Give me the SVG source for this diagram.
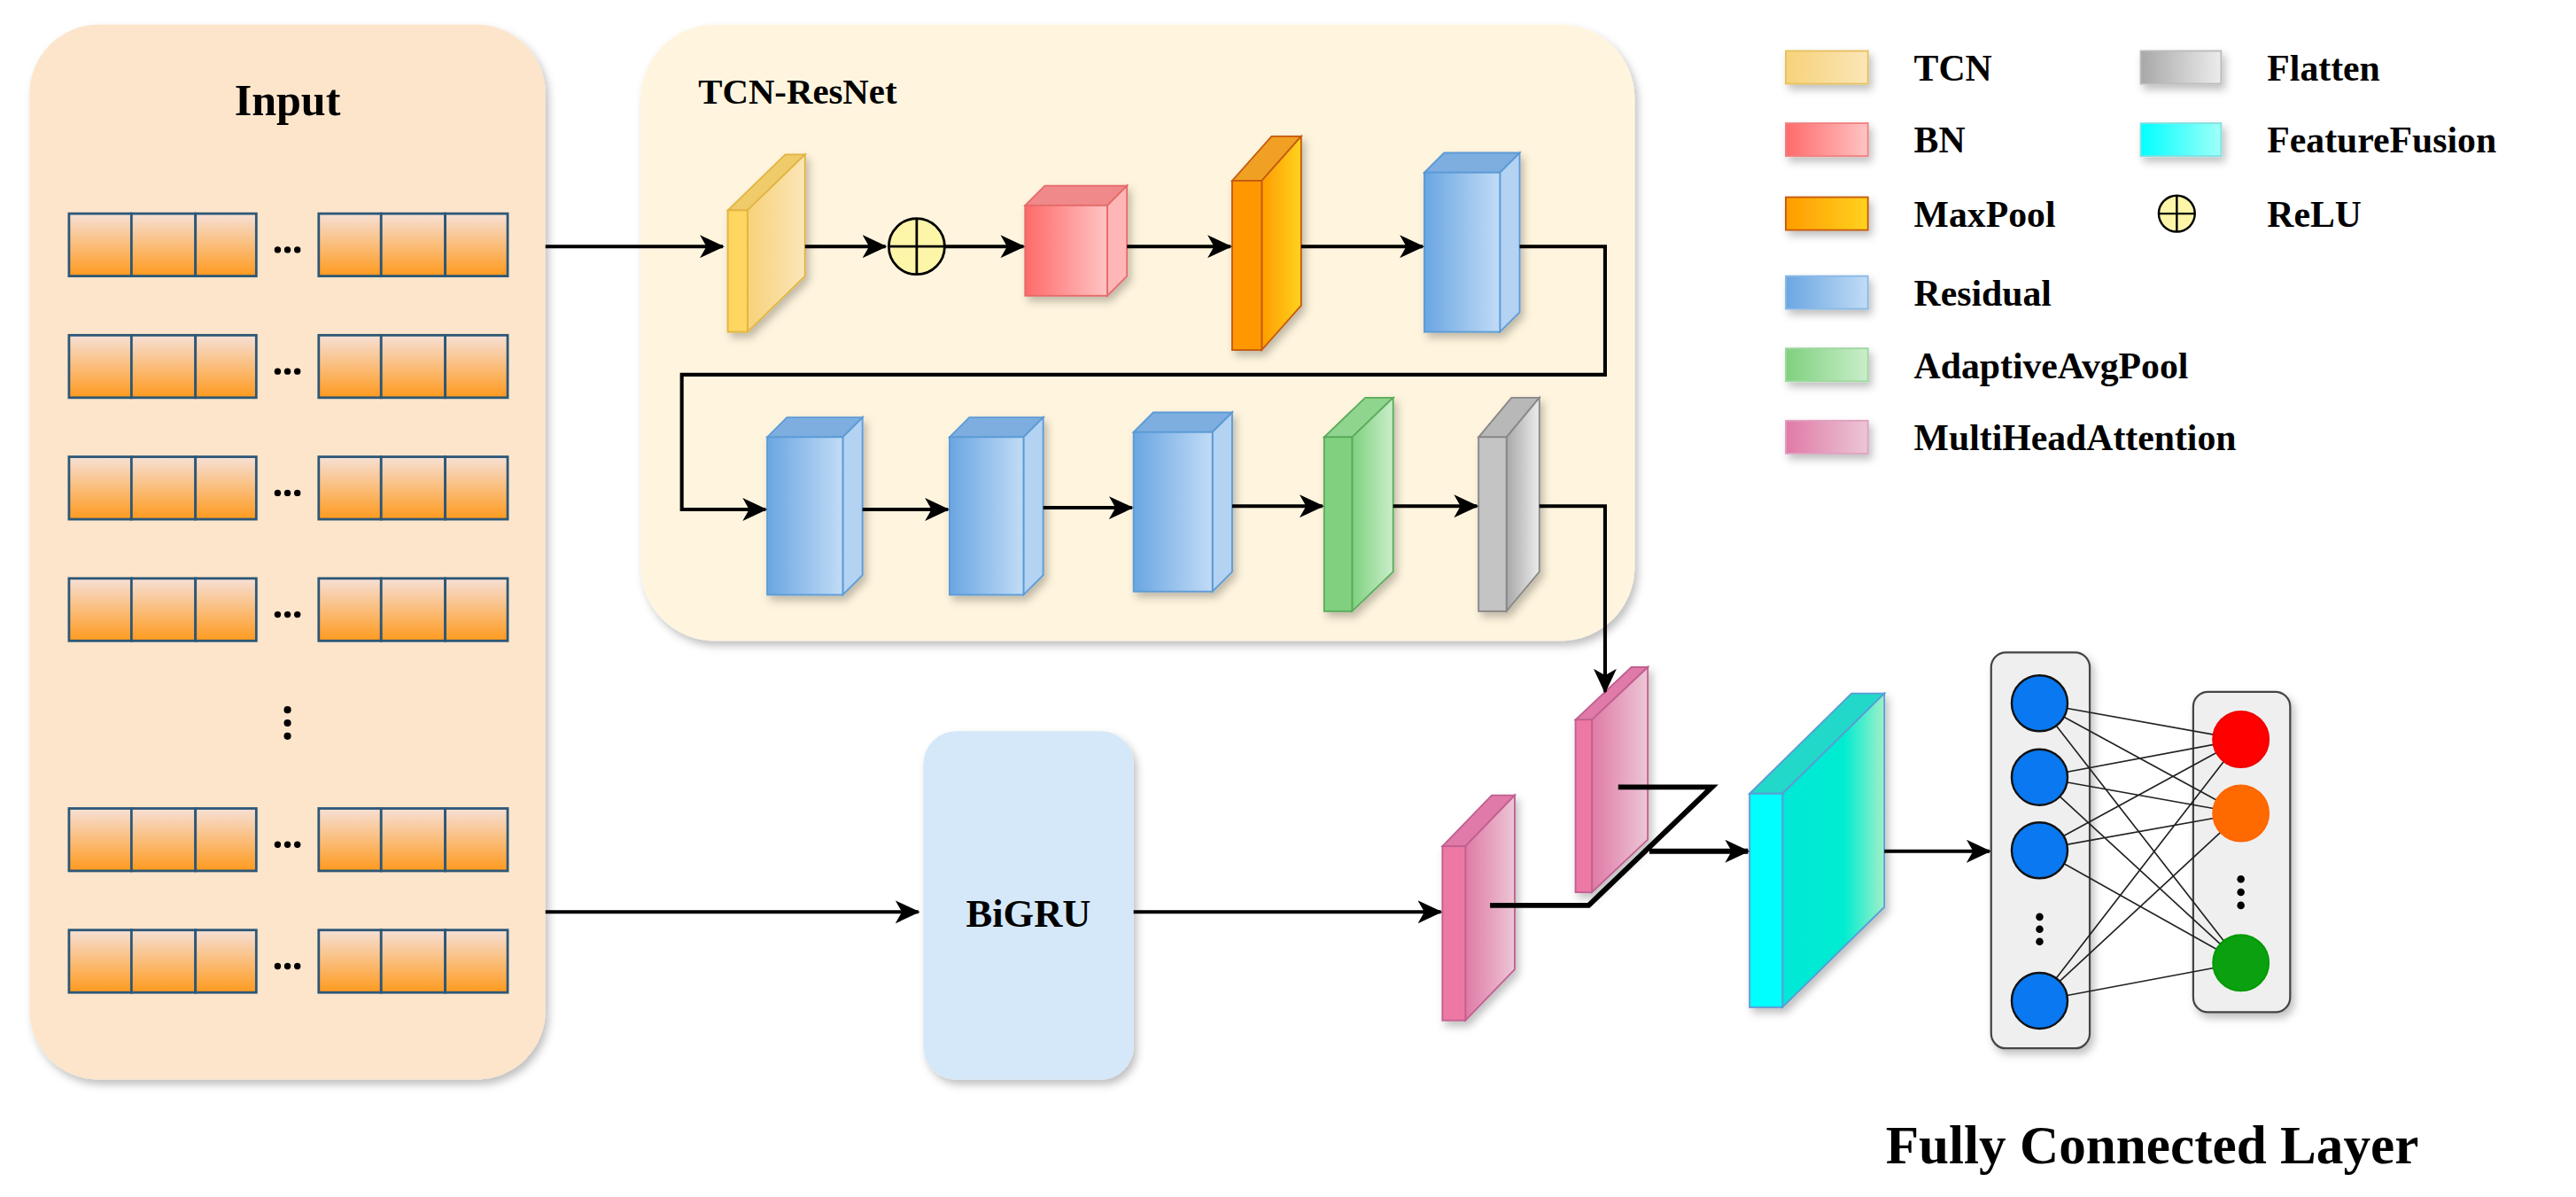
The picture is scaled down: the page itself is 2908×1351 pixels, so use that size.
<svg xmlns="http://www.w3.org/2000/svg" width="2908" height="1351" viewBox="0 0 2908 1351">
<defs>
<style>
.t{font-family:"Liberation Serif","Times New Roman",serif;font-weight:bold;fill:#000}
.ln{fill:none;stroke:#000;stroke-width:2.2}
.lk{fill:none;stroke:#000;stroke-width:3.2}
.fc{stroke:#222;stroke-width:0.9}
.cell{fill:url(#gCell);stroke:#2c5777;stroke-width:1.5}
</style>
<filter id="sh" x="-20%" y="-20%" width="150%" height="150%"><feDropShadow dx="2" dy="3" stdDeviation="2.5" flood-color="#000" flood-opacity="0.25"/></filter>
<marker id="ar" markerUnits="userSpaceOnUse" markerWidth="16" markerHeight="14" refX="14" refY="7" orient="auto"><path d="M0,0 L15,7 L0,14 L4,7 z" fill="#000"/></marker>
<linearGradient id="gCell" x1="0" y1="0" x2="0" y2="1"><stop offset="0" stop-color="#f6e0d6"/><stop offset="1" stop-color="#ff9a1e"/></linearGradient>
<linearGradient id="gY" x1="0" x2="1"><stop offset="0" stop-color="#f7d27a"/><stop offset="1" stop-color="#fbe6b8"/></linearGradient>
<linearGradient id="gR" x1="0" x2="1"><stop offset="0" stop-color="#ff6a6a"/><stop offset="1" stop-color="#ffc4c4"/></linearGradient>
<linearGradient id="gO" x1="0" x2="1"><stop offset="0" stop-color="#ff9c00"/><stop offset="1" stop-color="#ffd21e"/></linearGradient>
<linearGradient id="gB" x1="0" x2="1"><stop offset="0" stop-color="#6aa6e2"/><stop offset="1" stop-color="#c2dcf6"/></linearGradient>
<linearGradient id="gG" x1="0" x2="1"><stop offset="0" stop-color="#7fd07f"/><stop offset="1" stop-color="#caeeca"/></linearGradient>
<linearGradient id="gGr" x1="0" x2="1"><stop offset="0" stop-color="#a8a8a8"/><stop offset="1" stop-color="#ececec"/></linearGradient>
<linearGradient id="gP" x1="0" x2="1"><stop offset="0" stop-color="#e07aa6"/><stop offset="1" stop-color="#ecc6d6"/></linearGradient>
<linearGradient id="gC" x1="0" x2="1"><stop offset="0" stop-color="#00e8d8"/><stop offset="0.6" stop-color="#00ecd0"/><stop offset="1" stop-color="#a0f0c8"/></linearGradient>
<linearGradient id="gCs" x1="0" x2="1"><stop offset="0" stop-color="#00ffff"/><stop offset="1" stop-color="#a0fff8"/></linearGradient>
</defs>
<rect width="2908" height="1351" fill="#fff"/>
<g transform="scale(1.8546)">
<!-- Input -->
<g id="input">
<rect x="18" y="15" width="314" height="642" rx="42" fill="#fde5cb" filter="url(#sh)"/>
<text class="t" x="175" y="70" font-size="27" text-anchor="middle">Input</text>
<g id="rows">
<g id="row0" transform="translate(0,130)">
<rect class="cell" x="42" y="0" width="38" height="38"/><rect class="cell" x="80" y="0" width="39" height="38"/><rect class="cell" x="119" y="0" width="37" height="38"/>
<rect class="cell" x="194" y="0" width="38" height="38"/><rect class="cell" x="232" y="0" width="39" height="38"/><rect class="cell" x="271" y="0" width="38" height="38"/>
<circle cx="169" cy="22" r="2"/><circle cx="175" cy="22" r="2"/><circle cx="181" cy="22" r="2"/>
</g>
<use href="#row0" y="74"/><use href="#row0" y="148"/><use href="#row0" y="222"/><use href="#row0" y="362"/><use href="#row0" y="436"/>
</g>
<circle cx="175" cy="432" r="2.2"/><circle cx="175" cy="440" r="2.2"/><circle cx="175" cy="448" r="2.2"/>
</g>
<!-- TCN-ResNet -->
<g id="tcnresnet">
<rect x="390" y="15" width="605" height="375" rx="45" fill="#fff5de" filter="url(#sh)"/>
<text class="t" x="425" y="63" font-size="22">TCN-ResNet</text>
</g>
<g id="tcn" filter="url(#sh)">
<polygon points="443,128 478,94 490,94 455,128" fill="#efcb6a" stroke="#e2b441"/>
<polygon points="455,128 490,94 490,168 455,202" fill="url(#gY)" stroke="#e2b441"/>
<rect x="443" y="128" width="12" height="74" fill="#ffd660" stroke="#e2b441"/>
</g>
<g id="relu"><circle cx="558" cy="150" r="17" fill="#fdf6a8" stroke="#000" stroke-width="1.5"/><path d="M541,150H575M558,133V167" stroke="#000" stroke-width="1.5"/></g>
<g id="bn" filter="url(#sh)">
<polygon points="624,125 636,113 686,113 674,125" fill="#f08a8a" stroke="#e56a6a"/>
<polygon points="674,125 686,113 686,168 674,180" fill="#ffb6b6" stroke="#e56a6a"/>
<rect x="624" y="125" width="50" height="55" fill="url(#gR)" stroke="#e56a6a"/>
</g>
<g id="maxpool" filter="url(#sh)">
<polygon points="750,110 774,83 792,83 768,110" fill="#f0a020" stroke="#c55a11"/>
<polygon points="768,110 792,83 792,186 768,213" fill="url(#gO)" stroke="#c55a11"/>
<rect x="750" y="110" width="18" height="103" fill="#ff9800" stroke="#c55a11"/>
</g>
<g id="res1" filter="url(#sh)">
<polygon points="867,105 879,93 925,93 913,105" fill="#7eaee0" stroke="#5b9bd5"/>
<polygon points="913,105 925,93 925,190 913,202" fill="#b4d2f2" stroke="#5b9bd5"/>
<rect x="867" y="105" width="46" height="97" fill="url(#gB)" stroke="#5b9bd5"/>
</g>
<g id="res2" filter="url(#sh)">
<polygon points="467,266 479,254 525,254 513,266" fill="#7eaee0" stroke="#5b9bd5"/>
<polygon points="513,266 525,254 525,350 513,362" fill="#b4d2f2" stroke="#5b9bd5"/>
<rect x="467" y="266" width="46" height="96" fill="url(#gB)" stroke="#5b9bd5"/>
</g>
<g id="res3" filter="url(#sh)">
<polygon points="578,266 590,254 635,254 623,266" fill="#7eaee0" stroke="#5b9bd5"/>
<polygon points="623,266 635,254 635,350 623,362" fill="#b4d2f2" stroke="#5b9bd5"/>
<rect x="578" y="266" width="45" height="96" fill="url(#gB)" stroke="#5b9bd5"/>
</g>
<g id="res4" filter="url(#sh)">
<polygon points="690,263 702,251 750,251 738,263" fill="#7eaee0" stroke="#5b9bd5"/>
<polygon points="738,263 750,251 750,348 738,360" fill="#b4d2f2" stroke="#5b9bd5"/>
<rect x="690" y="263" width="48" height="97" fill="url(#gB)" stroke="#5b9bd5"/>
</g>
<g id="adaptiveavgpool" filter="url(#sh)">
<polygon points="806,266 831,242 848,242 823,266" fill="#8fd48f" stroke="#5aac5a"/>
<polygon points="823,266 848,242 848,348 823,372" fill="url(#gG)" stroke="#5aac5a"/>
<rect x="806" y="266" width="17" height="106" fill="#80d080" stroke="#5aac5a"/>
</g>
<g id="flatten" filter="url(#sh)">
<polygon points="900,266 920,242 937,242 917,266" fill="#b8b8b8" stroke="#888"/>
<polygon points="917,266 937,242 937,348 917,372" fill="url(#gGr)" stroke="#888"/>
<rect x="900" y="266" width="17" height="106" fill="#c4c4c4" stroke="#888"/>
</g>
<!-- BiGRU -->
<g id="bigru">
<rect x="562" y="445" width="128" height="212" rx="20" fill="#d5e8f9" filter="url(#sh)"/>
<text class="t" x="626" y="564" font-size="24" text-anchor="middle">BiGRU</text>
</g>
<g id="mha1" filter="url(#sh)">
<polygon points="878,515 908,484 922,484 892,515" fill="#e07aa8" stroke="#c06090"/>
<polygon points="892,515 922,484 922,590 892,621" fill="url(#gP)" stroke="#c06090"/>
<rect x="878" y="515" width="14" height="106" fill="#ee78a4" stroke="#c06090"/>
</g>
<g id="mha2" filter="url(#sh)">
<polygon points="959,438 993,406 1003,406 969,438" fill="#e07aa8" stroke="#c06090"/>
<polygon points="969,438 1003,406 1003,511 969,543" fill="url(#gP)" stroke="#c06090"/>
<rect x="959" y="438" width="10" height="105" fill="#ee78a4" stroke="#c06090"/>
</g>
<g id="featurefusion" filter="url(#sh)">
<polygon points="1065,483 1127,422 1147,422 1085,483" fill="#20d8c8" stroke="#5b9bd5"/>
<polygon points="1085,483 1147,422 1147,552 1085,613" fill="url(#gC)" stroke="#5b9bd5"/>
<rect x="1065" y="483" width="20" height="130" fill="#00ffff" stroke="#5b9bd5"/>
</g>
<!-- FC -->
<g id="fc">
<rect x="1212" y="397" width="60" height="241" rx="9" fill="#efefef" stroke="#444" stroke-width="1.2" filter="url(#sh)"/>
<rect x="1335" y="421" width="59" height="195" rx="9" fill="#efefef" stroke="#444" stroke-width="1.2" filter="url(#sh)"/>
<g class="fc">
<path d="M1241,428L1364,450M1241,428L1364,495M1241,428L1364,586M1241,473L1364,450M1241,473L1364,495M1241,473L1364,586M1241,517L1364,450M1241,517L1364,495M1241,517L1364,586M1241,609L1364,450M1241,609L1364,495M1241,609L1364,586"/>
</g>
<g fill="#0a78f0" stroke="#111" stroke-width="1.3">
<circle cx="1241.5" cy="428" r="17"/><circle cx="1241.5" cy="473" r="17"/><circle cx="1241.5" cy="517.5" r="17"/><circle cx="1241.5" cy="609" r="17"/>
</g>
<circle cx="1364" cy="450" r="17" fill="#ff0000" stroke="#e00" stroke-width="1"/>
<circle cx="1364" cy="495" r="17" fill="#ff6a00" stroke="#f60" stroke-width="1"/>
<circle cx="1364" cy="586" r="17" fill="#0aa010" stroke="#090" stroke-width="1"/>
<circle cx="1241.5" cy="558" r="2.3"/><circle cx="1241.5" cy="565.5" r="2.3"/><circle cx="1241.5" cy="573" r="2.3"/>
<circle cx="1364" cy="535" r="2.3"/><circle cx="1364" cy="543" r="2.3"/><circle cx="1364" cy="551" r="2.3"/>
<text class="t" x="1310" y="708" font-size="33" text-anchor="middle">Fully Connected Layer</text>
</g>
<!-- Legend -->
<g id="legend" class="t" font-size="22.5">
<g filter="url(#sh)">
<rect x="1087" y="31" width="50" height="20" fill="url(#gY)" stroke="#e6c060"/>
<rect x="1087" y="75" width="50" height="20" fill="url(#gR)" stroke="#f08080"/>
<rect x="1087" y="120" width="50" height="20" fill="url(#gO)" stroke="#c55a11"/>
<rect x="1087" y="168" width="50" height="20" fill="url(#gB)" stroke="#8ab8e6"/>
<rect x="1087" y="212" width="50" height="20" fill="url(#gG)" stroke="#a0d8a0"/>
<rect x="1087" y="256" width="50" height="20" fill="url(#gP)" stroke="#e0a0c0"/>
<rect x="1303" y="31" width="49" height="20" fill="url(#gGr)" stroke="#bbb"/>
<rect x="1303" y="75" width="49" height="20" fill="url(#gCs)" stroke="#80e0e0"/>
</g>
<circle cx="1325" cy="130" r="11" fill="#fdf6a8" stroke="#000" stroke-width="1.3"/><path d="M1314,130H1336M1325,119V141" stroke="#000" stroke-width="1.3"/>
<text x="1165" y="49">TCN</text>
<text x="1165" y="93">BN</text>
<text x="1165" y="138">MaxPool</text>
<text x="1165" y="186">Residual</text>
<text x="1165" y="230">AdaptiveAvgPool</text>
<text x="1165" y="274">MultiHeadAttention</text>
<text x="1380" y="49">Flatten</text>
<text x="1380" y="93">FeatureFusion</text>
<text x="1380" y="138">ReLU</text>
</g>
<!-- connectors -->
<g id="connectors">
<path class="ln" d="M332,150H440" marker-end="url(#ar)"/>
<path class="ln" d="M490,150H539" marker-end="url(#ar)"/>
<path class="ln" d="M575,150H623" marker-end="url(#ar)"/>
<path class="ln" d="M686,150H749" marker-end="url(#ar)"/>
<path class="ln" d="M792,150H866" marker-end="url(#ar)"/>
<path class="ln" d="M925,150H977V228H415V310H466" marker-end="url(#ar)"/>
<path class="ln" d="M525,310H577" marker-end="url(#ar)"/>
<path class="ln" d="M635,309H689" marker-end="url(#ar)"/>
<path class="ln" d="M750,308H805" marker-end="url(#ar)"/>
<path class="ln" d="M848,308H899" marker-end="url(#ar)"/>
<path class="ln" d="M937,308H977V421" marker-end="url(#ar)"/>
<path class="ln" d="M332,555H559" marker-end="url(#ar)"/>
<path class="ln" d="M690,555H877" marker-end="url(#ar)"/>
<path class="lk" d="M985,479H1042L967,551H907"/>
<path class="lk" d="M1004,518H1064" marker-end="url(#ar)"/>
<path class="ln" d="M1147,518H1211" marker-end="url(#ar)"/>
</g>
</g>
</svg>
